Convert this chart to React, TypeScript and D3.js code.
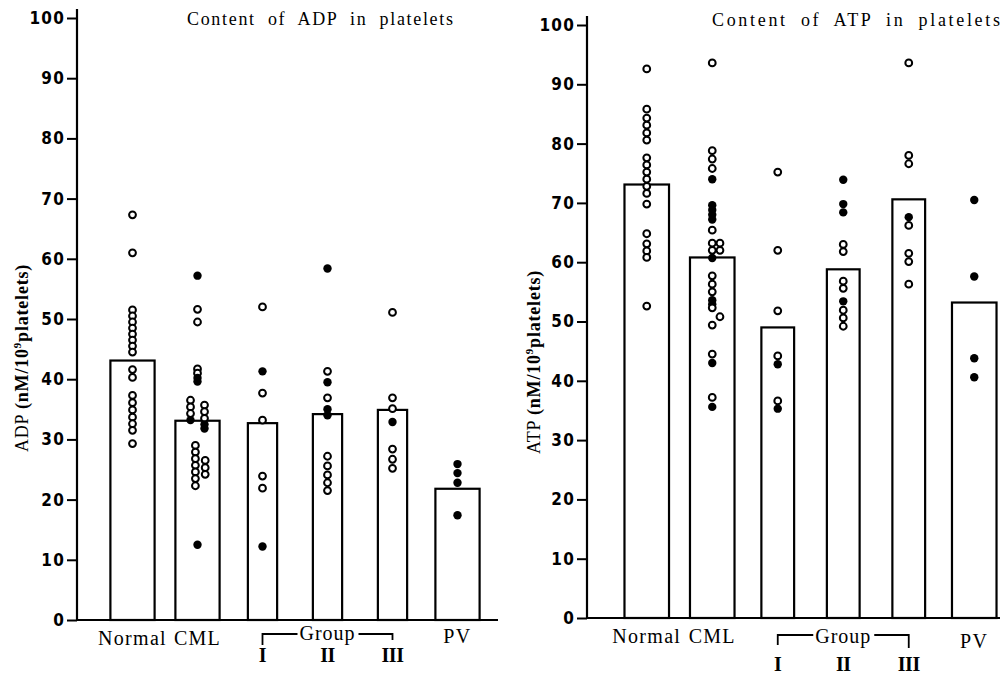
import React, { useEffect, useRef } from 'react';
import * as d3 from 'd3';

// categories along the x axis
const categories = ['Normal', 'CML', 'I', 'II', 'III', 'PV'];
const groupCats = ['I', 'II', 'III'];
const yTicks = [0, 10, 20, 30, 40, 50, 60, 70, 80, 90, 100];

// bar heights (group means)
const adpMeans = [43.1, 33.1, 32.7, 34.2, 34.9, 21.8];
const atpMeans = [73.1, 60.8, 49.0, 58.8, 70.6, 53.2];

// individual cases: [value, filled (1) / open (0), column]
const adpNormal = [
  [67.3, 0, 0], [61.0, 0, 0], [51.5, 0, 0], [50.5, 0, 0], [49.5, 0, 0], [48.5, 0, 0],
  [47.5, 0, 0], [46.5, 0, 0], [45.5, 0, 0], [44.5, 0, 0], [41.6, 0, 0], [40.3, 0, 0],
  [37.3, 0, 0], [36.1, 0, 0], [34.9, 0, 0], [33.7, 0, 0], [32.6, 0, 0], [31.5, 0, 0], [29.3, 0, 0],
];
const adpCml = [
  [57.2, 1, 0], [51.6, 0, 0], [49.5, 0, 0], [41.7, 0, 0], [41.0, 0, 0], [40.2, 1, 0], [39.6, 1, 0],
  [36.5, 0, -1], [35.4, 0, -1], [34.3, 0, -1], [33.2, 1, -1],
  [35.7, 0, 1], [34.6, 0, 1], [33.5, 0, 1], [32.5, 1, 1], [31.8, 1, 1],
  [29.0, 0, -0.3], [27.9, 0, -0.3], [26.8, 0, -0.3], [25.7, 0, -0.3], [24.6, 0, -0.3], [23.5, 0, -0.3], [22.3, 0, -0.3],
  [26.5, 0, 1.1], [25.3, 0, 1.1], [24.2, 0, 1.1], [12.5, 1, 0],
];
const adpGroupI = [[52.0, 0, 0], [41.3, 1, 0], [37.7, 0, 0], [33.2, 0, 0], [23.9, 0, 0], [21.9, 0, 0], [12.2, 1, 0]];
const adpGroupII = [
  [58.4, 1, 0], [41.3, 0, 0], [39.5, 1, 0], [36.9, 0, 0], [35.0, 1, 0], [34.0, 1, 0],
  [27.2, 0, 0], [25.6, 0, 0], [24.1, 0, 0], [22.8, 0, 0], [21.5, 0, 0],
];
const adpGroupIII = [[51.1, 0, 0], [36.9, 0, 0], [35.1, 0, 0], [32.9, 1, 0], [28.4, 0, 0], [26.7, 0, 0], [25.2, 0, 0]];
const adpPv = [[25.9, 1, 0], [24.4, 1, 0], [22.8, 1, 0], [17.4, 1, 0]];

const atpNormal = [
  [92.6, 0, 0], [85.8, 0, 0], [84.3, 0, 0], [83.1, 0, 0], [81.8, 0, 0], [80.6, 0, 0],
  [77.6, 0, 0], [76.4, 0, 0], [75.2, 0, 0], [74.0, 0, 0], [72.8, 0, 0], [71.6, 0, 0],
  [69.8, 0, 0], [64.8, 0, 0], [63.1, 0, 0], [61.9, 0, 0], [60.8, 0, 0], [52.6, 0, 0],
];
const atpCml = [
  [93.6, 0, 0], [78.8, 0, 0], [77.4, 0, 0], [75.8, 0, 0], [74.0, 1, 0],
  [69.6, 1, 0], [68.8, 1, 0], [68.0, 1, 0], [67.2, 1, 0], [65.4, 0, 0],
  [63.2, 0, 0], [62.0, 0, 0], [63.2, 0, 1.1], [62.0, 0, 1.1], [60.7, 1, 0],
  [57.7, 0, 0], [56.3, 0, 0], [55.0, 0, 0], [53.6, 1, 0], [52.9, 1, 0], [52.3, 0, 0],
  [50.8, 0, 1.1], [49.4, 0, 0],
  [44.5, 0, 0], [43.0, 1, 0], [37.2, 0, 0], [35.6, 1, 0],
];
const atpGroupI = [[75.2, 0, 0], [62.0, 0, 0], [51.8, 0, 0], [44.2, 0, 0], [42.8, 1, 0], [36.6, 0, 0], [35.3, 1, 0]];
const atpGroupII = [
  [73.9, 1, 0], [69.8, 1, 0], [68.4, 1, 0], [63.0, 0, 0], [61.8, 0, 0],
  [56.8, 0, 0], [55.6, 0, 0], [53.4, 1, 0], [51.9, 0, 0], [50.6, 0, 0], [49.2, 0, 0],
];
const atpGroupIII = [[93.6, 0, 0], [78.0, 0, 0], [76.6, 0, 0], [67.6, 1, 0], [66.2, 0, 0], [61.5, 0, 0], [60.1, 0, 0], [56.3, 0, 0]];
const atpPv = [[70.5, 1, 0], [57.6, 1, 0], [43.8, 1, 0], [40.6, 1, 0]];

const adpDots = [adpNormal, adpCml, adpGroupI, adpGroupII, adpGroupIII, adpPv];
const atpDots = [atpNormal, atpCml, atpGroupI, atpGroupII, atpGroupIII, atpPv];

const SERIF = '"Liberation Serif", "DejaVu Serif", serif';
const COND = '"Liberation Sans Narrow", "DejaVu Sans Condensed", "DejaVu Sans", sans-serif';

type PanelProps = {
  means: number[];
  dots: number[][][];
  title: string;
  substance: string;
  axisX: number; endX: number; y0: number; y100: number;
  band: [number, number];
  groupFactor: number;
  titleX: number; titleY: number; titleLen: number;
  labelX: number; labelY: number;
  lab: { main: number; pv: number; group: number; bracket: number; left: number; right: number; roman: number };
};

function Panel(p: PanelProps) {
  const axisRef = useRef<SVGGElement>(null);
  const y = d3.scaleLinear().domain([0, 100]).range([p.y0, p.y100]);
  const x = d3.scaleBand().domain(categories).range(p.band).padding(0);
  const cx = (c: string) => (x(c) as number) + x.bandwidth() / 2;
  const barW = (c: string) => x.bandwidth() * (groupCats.includes(c) ? p.groupFactor : 0.68);

  useEffect(() => {
    const g = d3.select(axisRef.current as SVGGElement);
    g.selectAll('*').remove();
    g.call(d3.axisLeft(y).tickValues(yTicks).tickSize(10).tickPadding(2).tickSizeOuter(0));
    g.select('.domain').remove();
    g.attr('font-family', COND).attr('font-size', 17).attr('font-weight', 'bold');
    g.selectAll('line').attr('stroke', '#000').attr('stroke-width', 2);
    g.selectAll('text').attr('fill', '#000').attr('letter-spacing', 1.2);
  }, []);

  const L = p.lab;
  return (
    <g>
      <text x={p.titleX} y={p.titleY} textAnchor="middle" fontFamily={SERIF} fontSize={18}
        textLength={p.titleLen} lengthAdjust="spacing" wordSpacing={6}>{p.title}</text>

      {categories.map((c, i) => (
        <rect key={c} x={cx(c) - barW(c) / 2} y={y(p.means[i])} width={barW(c)} height={p.y0 - y(p.means[i])}
          fill="#fff" stroke="#000" strokeWidth={2.2} />
      ))}

      {categories.map((c, i) =>
        p.dots[i].map((d, j) => (
          <circle key={c + j} cx={cx(c) + d[2] * 7} cy={y(d[0])} r={d[1] ? 4.2 : 3.4}
            fill={d[1] ? '#000' : '#fff'} stroke="#000" strokeWidth={d[1] ? 0 : 2} />
        ))
      )}

      <line x1={p.axisX} x2={p.axisX} y1={p.y0 + 1} y2={p.y100 - 9} stroke="#000" strokeWidth={2.2} />
      <line x1={p.axisX - 1} x2={p.endX} y1={p.y0} y2={p.y0} stroke="#000" strokeWidth={2.2} />
      <g ref={axisRef} transform={`translate(${p.axisX},0)`} />

      <text transform={`translate(${p.labelX},${p.labelY}) rotate(-90)`} textAnchor="middle"
        fontFamily={SERIF} fontSize={18} letterSpacing={0.8}>
        {p.substance} <tspan fontWeight="bold">(nM/10</tspan>
        <tspan dy={-7} fontSize={11} fontWeight="bold">9</tspan>
        <tspan dy={7} fontWeight="bold">platelets)</tspan>
      </text>

      <g fontFamily={SERIF} fontSize={20} textAnchor="middle">
        <text x={cx('Normal')} y={p.y0 + L.main} letterSpacing={1.3}>Normal</text>
        <text x={cx('CML')} y={p.y0 + L.main} letterSpacing={1.3}>CML</text>
        <text x={cx('PV')} y={p.y0 + L.pv} letterSpacing={1.5}>PV</text>
        <text x={cx('II')} y={p.y0 + L.group} letterSpacing={1}>Group</text>
        {groupCats.map(c => (
          <text key={c} x={cx(c)} y={p.y0 + L.roman} fontWeight="bold" letterSpacing={-0.5}>{c}</text>
        ))}
      </g>
      <g fill="none" stroke="#000" strokeWidth={1.8}>
        <polyline points={`${cx('I')},${p.y0 + L.left} ${cx('I')},${p.y0 + L.bracket} ${cx('II') - 30},${p.y0 + L.bracket}`} />
        <polyline points={`${cx('II') + 31},${p.y0 + L.bracket} ${cx('III')},${p.y0 + L.bracket} ${cx('III')},${p.y0 + L.right}`} />
      </g>
    </g>
  );
}

export default function App() {
  return (
    <svg width={1008} height={674} style={{ position: 'absolute', left: 0, top: 0, background: '#fff' }}>
      <Panel means={adpMeans} dots={adpDots} title="Content of ADP in platelets" substance="ADP"
        axisX={77} endX={498} y0={620} y100={18} band={[100, 490]} groupFactor={0.45}
        titleX={320} titleY={25} titleLen={266} labelX={28} labelY={358}
        lab={{ main: 25, pv: 23, group: 20, bracket: 14, left: 25, right: 20, roman: 42 }} />
      <Panel means={atpMeans} dots={atpDots} title="Content of ATP in platelets" substance="ATP"
        axisX={587} endX={1000} y0={618} y100={25} band={[614, 1007]} groupFactor={0.5}
        titleX={856} titleY={26} titleLen={288} labelX={540} labelY={362}
        lab={{ main: 25, pv: 30, group: 25, bracket: 17, left: 27, right: 30, roman: 53 }} />
    </svg>
  );
}
